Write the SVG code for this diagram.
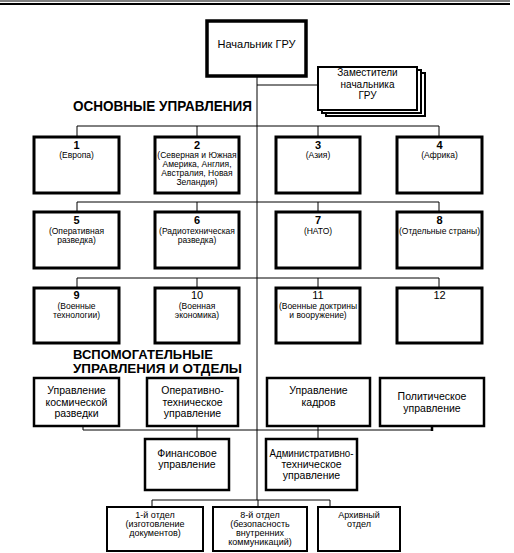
<svg xmlns="http://www.w3.org/2000/svg" width="514" height="553" viewBox="0 0 514 553">
<style>
.bx{fill:#fff;stroke:#000;stroke-width:3}
.bx2{fill:#fff;stroke:#000;stroke-width:2.5}
.bx3{fill:#fff;stroke:#000;stroke-width:2}
.ln{stroke:#000;stroke-width:1;fill:none}
text{font-family:"Liberation Sans",Arial,sans-serif;fill:#000;text-anchor:middle}
.num{font-size:11px;font-weight:bold}
.numr{font-size:11px}
.sub{font-size:8.5px}
.aux{font-size:10.5px}
.bot{font-size:9px}
.hd{font-weight:bold;text-anchor:start}
</style>
<rect width="514" height="553" fill="#fff"/>
<g id="rule">
<line x1="0" y1="1" x2="510" y2="1" stroke="#000" stroke-width="1"/>
<line x1="0" y1="4" x2="510" y2="4" stroke="#000" stroke-width="2"/>
</g>
<g id="connectors">
<line class="ln" x1="257" y1="76" x2="257" y2="500"/>
<line class="ln" x1="257" y1="85" x2="318" y2="85"/>
<line class="ln" x1="77" y1="126" x2="439" y2="126"/>
<line class="ln" x1="77" y1="126" x2="77" y2="137"/>
<line class="ln" x1="197" y1="126" x2="197" y2="137"/>
<line class="ln" x1="318" y1="126" x2="318" y2="137"/>
<line class="ln" x1="439" y1="126" x2="439" y2="137"/>
<line class="ln" x1="77" y1="202" x2="439" y2="202"/>
<line class="ln" x1="77" y1="202" x2="77" y2="212"/>
<line class="ln" x1="197" y1="202" x2="197" y2="212"/>
<line class="ln" x1="318" y1="202" x2="318" y2="212"/>
<line class="ln" x1="439" y1="202" x2="439" y2="212"/>
<line class="ln" x1="77" y1="278" x2="439" y2="278"/>
<line class="ln" x1="77" y1="278" x2="77" y2="288"/>
<line class="ln" x1="197" y1="278" x2="197" y2="288"/>
<line class="ln" x1="318" y1="278" x2="318" y2="288"/>
<line class="ln" x1="439" y1="278" x2="439" y2="288"/>
<line class="ln" x1="83" y1="430" x2="432" y2="430"/>
<line class="ln" x1="83" y1="426" x2="83" y2="430"/>
<line x1="432" y1="426" x2="432" y2="431" stroke="#000" stroke-width="2.5"/>
<line class="ln" x1="197" y1="426" x2="197" y2="439"/>
<line class="ln" x1="318" y1="426" x2="318" y2="439"/>
<line class="ln" x1="152" y1="500" x2="330" y2="500"/>
<line class="ln" x1="152" y1="500" x2="152" y2="507"/>
<line class="ln" x1="258" y1="500" x2="258" y2="507"/>
<line class="ln" x1="330" y1="500" x2="330" y2="507"/>
</g>
<g id="chief">
<rect x="207" y="21" width="99" height="55" fill="#fff" stroke="#000" stroke-width="3.5"/>
<text x="256.5" y="48" font-size="11">Начальник ГРУ</text>
</g>
<g id="deputies">
<rect class="bx3" x="326" y="73" width="99" height="43"/>
<rect class="bx3" x="322" y="70" width="99" height="43"/>
<rect class="bx3" x="318" y="67" width="99" height="43"/>
<text x="367.5" y="76" font-size="10">Заместители</text>
<text x="367.5" y="88" font-size="10">начальника</text>
<text x="367.5" y="99" font-size="10">ГРУ</text>
</g>
<text class="hd" x="73" y="111" font-size="14" textLength="179" lengthAdjust="spacingAndGlyphs">ОСНОВНЫЕ УПРАВЛЕНИЯ</text>
<g id="d1"><rect class="bx" x="34" y="137" width="85" height="56"/><text class="num" x="76.5" y="149">1</text><text class="sub" x="76.5" y="158">(Европа)</text></g>
<g id="d2"><rect class="bx" x="155" y="137" width="84" height="56"/><text class="num" x="197" y="149">2</text><text class="sub" x="197" y="158">(Северная и Южная</text><text class="sub" x="197" y="167">Америка, Англия,</text><text class="sub" x="197" y="176">Австралия, Новая</text><text class="sub" x="197" y="185">Зеландия)</text></g>
<g id="d3"><rect class="bx" x="276" y="137" width="84" height="56"/><text class="num" x="318" y="149">3</text><text class="sub" x="318" y="158">(Азия)</text></g>
<g id="d4"><rect class="bx" x="397" y="137" width="85" height="56"/><text class="num" x="439.5" y="149">4</text><text class="sub" x="439.5" y="158">(Африка)</text></g>
<g id="d5"><rect class="bx" x="34" y="212" width="85" height="56"/><text class="num" x="76.5" y="224">5</text><text class="sub" x="76.5" y="234">(Оперативная</text><text class="sub" x="76.5" y="243">разведка)</text></g>
<g id="d6"><rect class="bx" x="155" y="212" width="84" height="56"/><text class="num" x="197" y="224">6</text><text class="sub" x="197" y="234">(Радиотехническая</text><text class="sub" x="197" y="243">разведка)</text></g>
<g id="d7"><rect class="bx" x="276" y="212" width="84" height="56"/><text class="num" x="318" y="224">7</text><text class="sub" x="318" y="234">(НАТО)</text></g>
<g id="d8"><rect class="bx" x="397" y="212" width="85" height="56"/><text class="num" x="439.5" y="224">8</text><text class="sub" x="439.5" y="234">(Отдельные страны)</text></g>
<g id="d9"><rect class="bx" x="34" y="288" width="85" height="55"/><text class="num" x="76.5" y="299">9</text><text class="sub" x="76.5" y="309">(Военные</text><text class="sub" x="76.5" y="318">технологии)</text></g>
<g id="d10"><rect class="bx" x="155" y="288" width="84" height="55"/><text class="numr" x="197" y="299">10</text><text class="sub" x="197" y="309">(Военная</text><text class="sub" x="197" y="318">экономика)</text></g>
<g id="d11"><rect class="bx" x="276" y="288" width="84" height="55"/><text class="numr" x="318" y="299">11</text><text class="sub" x="318" y="309">(Военные доктрины</text><text class="sub" x="318" y="318">и вооружение)</text></g>
<g id="d12"><rect class="bx" x="397" y="288" width="85" height="55"/><text class="numr" x="439.5" y="299">12</text></g>
<text class="hd" x="73" y="359" font-size="12.5" textLength="140" lengthAdjust="spacingAndGlyphs">ВСПОМОГАТЕЛЬНЫЕ</text>
<text class="hd" x="73" y="373" font-size="12.5" textLength="169" lengthAdjust="spacingAndGlyphs">УПРАВЛЕНИЯ И ОТДЕЛЫ</text>
<g id="a1"><rect class="bx2" x="34" y="378" width="85" height="48"/><text class="aux" x="76.5" y="394">Управление</text><text class="aux" x="76.5" y="406">космической</text><text class="aux" x="76.5" y="417">разведки</text></g>
<g id="a2"><rect class="bx2" x="147" y="378" width="91" height="48"/><text class="aux" x="192.5" y="394">Оперативно-</text><text class="aux" x="192.5" y="406">техническое</text><text class="aux" x="192.5" y="417">управление</text></g>
<g id="a3"><rect class="bx2" x="267" y="378" width="103" height="48"/><text class="aux" x="318.5" y="394">Управление</text><text class="aux" x="318.5" y="406">кадров</text></g>
<g id="a4"><rect class="bx2" x="380" y="378" width="104" height="48"/><text class="aux" x="432" y="400">Политическое</text><text class="aux" x="432" y="412">управление</text></g>
<g id="a5"><rect class="bx2" x="145" y="439" width="84" height="51"/><text class="aux" x="187" y="457">Финансовое</text><text class="aux" x="187" y="468">управление</text></g>
<g id="a6"><rect class="bx2" x="266" y="439" width="91" height="51"/><text class="aux" x="311.5" y="457" textLength="84" lengthAdjust="spacingAndGlyphs">Административно-</text><text class="aux" x="311.5" y="468">техническое</text><text class="aux" x="311.5" y="479">управление</text></g>
<g id="o1"><rect class="bx3" x="107" y="507" width="96" height="44"/><text class="bot" x="155" y="518">1-й отдел</text><text class="bot" x="155" y="527">(изготовление</text><text class="bot" x="155" y="536">документов)</text></g>
<g id="o8"><rect class="bx3" x="213" y="507" width="94" height="44"/><text class="bot" x="260" y="518">8-й отдел</text><text class="bot" x="260" y="527">(безопасность</text><text class="bot" x="260" y="536">внутренних</text><text class="bot" x="260" y="545">коммуникаций)</text></g>
<g id="oa"><rect class="bx3" x="318" y="507" width="82" height="44"/><text class="bot" x="359" y="518">Архивный</text><text class="bot" x="359" y="527">отдел</text></g>
</svg>
